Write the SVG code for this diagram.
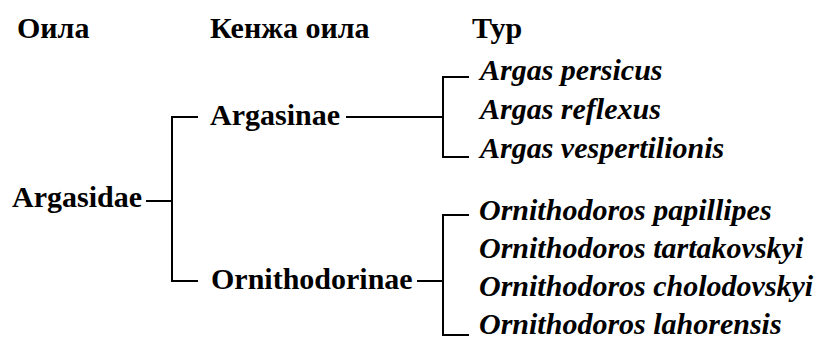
<svg xmlns="http://www.w3.org/2000/svg" width="822" height="345" viewBox="0 0 822 345">
<style>
text{font-family:"Liberation Serif","Times New Roman",serif;font-weight:bold;font-size:30px;fill:#000}
.sp{font-style:italic}
.c{fill:none;stroke:#000;stroke-width:2}
</style>
<rect width="822" height="345" fill="#fff"/>
<g id="headers">
<text x="17" y="38">Оила</text>
<text x="210" y="38">Кенжа оила</text>
<text x="472" y="38">Тур</text>
</g>
<g id="argasidae"><text x="12" y="207">Argasidae</text></g>
<g id="argasinae"><text x="210" y="125">Argasinae</text></g>
<g id="ornithodorinae"><text x="211" y="289">Ornithodorinae</text></g>
<g id="argas-persicus"><text class="sp" x="480" y="80">Argas persicus</text></g>
<g id="argas-reflexus"><text class="sp" x="480" y="119">Argas reflexus</text></g>
<g id="argas-vespertilionis"><text class="sp" x="480" y="158">Argas vespertilionis</text></g>
<g id="o-papillipes"><text class="sp" x="479" y="220">Ornithodoros papillipes</text></g>
<g id="o-tartakovskyi"><text class="sp" x="479" y="258">Ornithodoros tartakovskyi</text></g>
<g id="o-cholodovskyi"><text class="sp" x="479" y="296">Ornithodoros cholodovskyi</text></g>
<g id="o-lahorensis"><text class="sp" x="479" y="334">Ornithodoros lahorensis</text></g>
<g id="connectors">
<path class="c" d="M146 201H172"/>
<path class="c" d="M198 117H172V281H198"/>
<path class="c" d="M346 117H443"/>
<path class="c" d="M469 77H443V157H469"/>
<path class="c" d="M417 281H443"/>
<path class="c" d="M469 215H443V335H469"/>
</g>
</svg>
